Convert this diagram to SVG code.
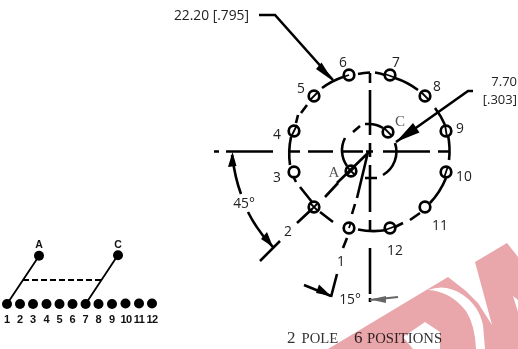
<svg xmlns="http://www.w3.org/2000/svg" width="518" height="349" viewBox="0 0 518 349">
<style>
.l{fill:none;stroke:#000;stroke-width:2.6}
.t{fill:none;stroke:#000;stroke-width:1.8}
.h{fill:none;stroke:#000;stroke-width:2.7}
.a{fill:#000}
.n{font-family:"Open Sans","Noto Sans",sans-serif;font-size:13.8px;fill:#222;text-anchor:middle}
.s{font-family:"Liberation Serif",serif;font-size:15px;fill:#555;text-anchor:middle}
.d{fill:#000}
.b{font-family:"Liberation Sans",sans-serif;font-weight:700;font-size:11px;fill:#111;text-anchor:middle}
.f{font-family:"Liberation Serif",serif;font-size:14.7px;fill:#333}
</style>
<rect width="518" height="349" fill="#fff"/>
<g id="connectors">
<path class="l" d="M214 151.500h5M226 151.500h47M290 151.500h10M308 151.500h25M342 151.500h21M366 151.500h7M383 151.500h47M438 151.500h11"/>
<path class="l" d="M370 73v10M370 90v45M370 143v14M370 165v47M370 220v11M370 248v46M370 298v4"/>
<path class="l" d="M365 124h6M365 178h12"/>
<path class="l" d="M358 74A80 80 0 0 1 370 72.500M375 72.500A80 80 0 0 1 385 75M395 78A80 80 0 0 1 418 90M435 108A80 80 0 0 1 445 125M448 135A80 80 0 0 1 449 160M446 178A80 80 0 0 1 430 203M420 213L410 220M403 223L395 227M387 230A80 80 0 0 1 358 229.500M333 222L320 212M312 202L300 187M296 182L293 176M290 165A80 80 0 0 1 291 137M296 123L298 115M301 113L307 105M322 88A80 80 0 0 1 343 77"/>
<path class="l" d="M353 132L360 126M369 124A27 27 0 0 1 383 128M395 143A27 27 0 0 1 383 175M345 138A27 27 0 0 0 347 166"/>
<path class="l" d="M369 152L337 183M338 183L325 197M312 209L297 223M280 241L260 261M368 152L357 198M355 204L352 214M347 238L343 248M337 274L331 297"/>
<path class="l" d="M259 15H275L333 80M473 91H468L396 142M304 285L331 296"/>
<path class="l" d="M232 155Q235 178 241 194M248 212Q258 232 273 247"/>
<path d="M398 297L370 300" fill="none" stroke="#666" stroke-width="2"/>
<path class="a" d="M333 81L316 69L321.500 62.500Z"/>
<path class="a" d="M396 142L413 123L419.500 132.500Z"/>
<path class="a" d="M232.500 152L228 167L236.500 166Z"/>
<path class="a" d="M273 247L261 239L267 232Z"/>
<path class="a" d="M331 296L316 293L319 284.500Z"/>
<path d="M370 299.500L386 296L386 303Z" fill="#666"/>
<path class="t" d="M39 256L7 304M118 255L85.600 304"/>
<path class="t" stroke-dasharray="6 3" d="M23 280H102"/>
</g>
<g id="hole-1"><circle class="h" cx="349" cy="228" r="5.300"/><path class="t" d="M349 228L351 222"/><text class="n" x="341" y="266">1</text></g>
<g id="hole-2"><circle class="h" cx="314" cy="207" r="5.300"/><path class="t" d="M310 203L318 211M318 203L310 211"/><text class="n" x="288" y="236">2</text></g>
<g id="hole-3"><circle class="h" cx="294" cy="172" r="5.300"/><text class="n" x="277" y="182">3</text></g>
<g id="hole-4"><circle class="h" cx="294" cy="131" r="5.300"/><path class="t" d="M291 137L297 125"/><text class="n" x="277" y="139">4</text></g>
<g id="hole-5"><circle class="h" cx="314" cy="96" r="5.300"/><path class="t" d="M310 100L318 92"/><text class="n" x="301" y="93">5</text></g>
<g id="hole-6"><circle class="h" cx="349" cy="75" r="5.300"/><path class="t" d="M343 77L349 75"/><text class="n" x="343" y="67">6</text></g>
<g id="hole-7"><circle class="h" cx="390" cy="75" r="5.300"/><path class="t" d="M385 74L396 78"/><text class="n" x="396" y="67">7</text></g>
<g id="hole-8"><circle class="h" cx="425" cy="96" r="5.300"/><path class="t" d="M421 92L429 100"/><text class="n" x="437" y="91">8</text></g>
<g id="hole-9"><circle class="h" cx="446" cy="131" r="5.300"/><path class="t" d="M445 125L447 137"/><text class="n" x="460" y="133">9</text></g>
<g id="hole-10"><circle class="h" cx="446" cy="172" r="5.300"/><path class="t" d="M448 166L444 178"/><text class="n" x="464" y="181">10</text></g>
<g id="hole-11"><circle class="h" cx="425" cy="207" r="5.300"/><text class="n" x="440" y="230">11</text></g>
<g id="hole-12"><circle class="h" cx="390" cy="228" r="5.300"/><path class="t" d="M385 230L396 226"/><text class="n" x="395" y="255">12</text></g>
<g id="contact-A"><circle class="h" cx="351" cy="171" r="5.300"/><path class="t" d="M347 167L355 175M355 167L347 175"/><text class="s" x="334" y="177">A</text></g>
<g id="contact-C"><circle class="h" cx="388" cy="132" r="5.300"/><path class="t" d="M384 128L392 136"/><text class="s" x="400" y="126">C</text></g>
<g id="labels">
<text class="n" x="249" y="20" style="text-anchor:end">22.20 [.795]</text>
<text class="n" x="517" y="86" style="text-anchor:end;font-size:13px">7.70</text>
<text class="n" x="517" y="104" style="text-anchor:end;font-size:13px">[.303]</text>
<text class="n" x="244" y="208">45°</text>
<text class="n" x="350" y="304">15°</text>
</g>
<g id="schematic">
<g id="pin-A"><circle class="d" cx="39" cy="255.700" r="5"/><text class="b" x="39" y="248" style="font-size:10.500px">A</text></g>
<g id="pin-C"><circle class="d" cx="118" cy="255.300" r="5"/><text class="b" x="118" y="248" style="font-size:10.500px">C</text></g>
<g id="t1"><circle class="d" cx="7" cy="304" r="5"/><text class="b" x="7" y="323">1</text></g>
<g id="t2"><circle class="d" cx="20" cy="304" r="5"/><text class="b" x="20" y="323">2</text></g>
<g id="t3"><circle class="d" cx="33" cy="304" r="5"/><text class="b" x="33" y="323">3</text></g>
<g id="t4"><circle class="d" cx="46.500" cy="304" r="5"/><text class="b" x="46.500" y="323">4</text></g>
<g id="t5"><circle class="d" cx="59.500" cy="304" r="5"/><text class="b" x="59.500" y="323">5</text></g>
<g id="t6"><circle class="d" cx="72.500" cy="304" r="5"/><text class="b" x="72.500" y="323">6</text></g>
<g id="t7"><circle class="d" cx="85.600" cy="304" r="5"/><text class="b" x="85.600" y="323">7</text></g>
<g id="t8"><circle class="d" cx="98.500" cy="304" r="5"/><text class="b" x="98.500" y="323">8</text></g>
<g id="t9"><circle class="d" cx="112" cy="304" r="5"/><text class="b" x="112" y="323">9</text></g>
<g id="t10"><circle class="d" cx="125.500" cy="303.500" r="5"/><text class="b" x="126" y="323" style="letter-spacing:-.5px">10</text></g>
<g id="t11"><circle class="d" cx="139" cy="303.500" r="5"/><text class="b" x="139" y="323" style="letter-spacing:-.5px">11</text></g>
<g id="t12"><circle class="d" cx="152" cy="303.500" r="5"/><text class="b" x="152" y="323" style="letter-spacing:-.5px">12</text></g>
</g>
<g id="caption">
<text class="f" x="287" y="343" style="font-size:17px">2</text>
<text class="f" x="301.500" y="343">POLE</text>
<text class="f" x="354" y="343" style="font-size:17px">6</text>
<text class="f" x="367" y="343">POSITIONS</text>
</g>
<g id="watermark" style="mix-blend-mode:multiply">
<path fill="#e9a6ab" fill-rule="evenodd" d="M328 349L448 277L466 291L478 303L492 325L475 262L507 243L518 257V349ZM425 322L403 337L413 349H440V332Z"/>
<path fill="#fff" d="M428 290Q446 283 463 295Q479 306 483 325L485 349H476Q475 325 466 311Q450 291 428 290Z"/>
<path fill="#fff" d="M513 296L518 300V312Z"/>
</g>
</svg>
